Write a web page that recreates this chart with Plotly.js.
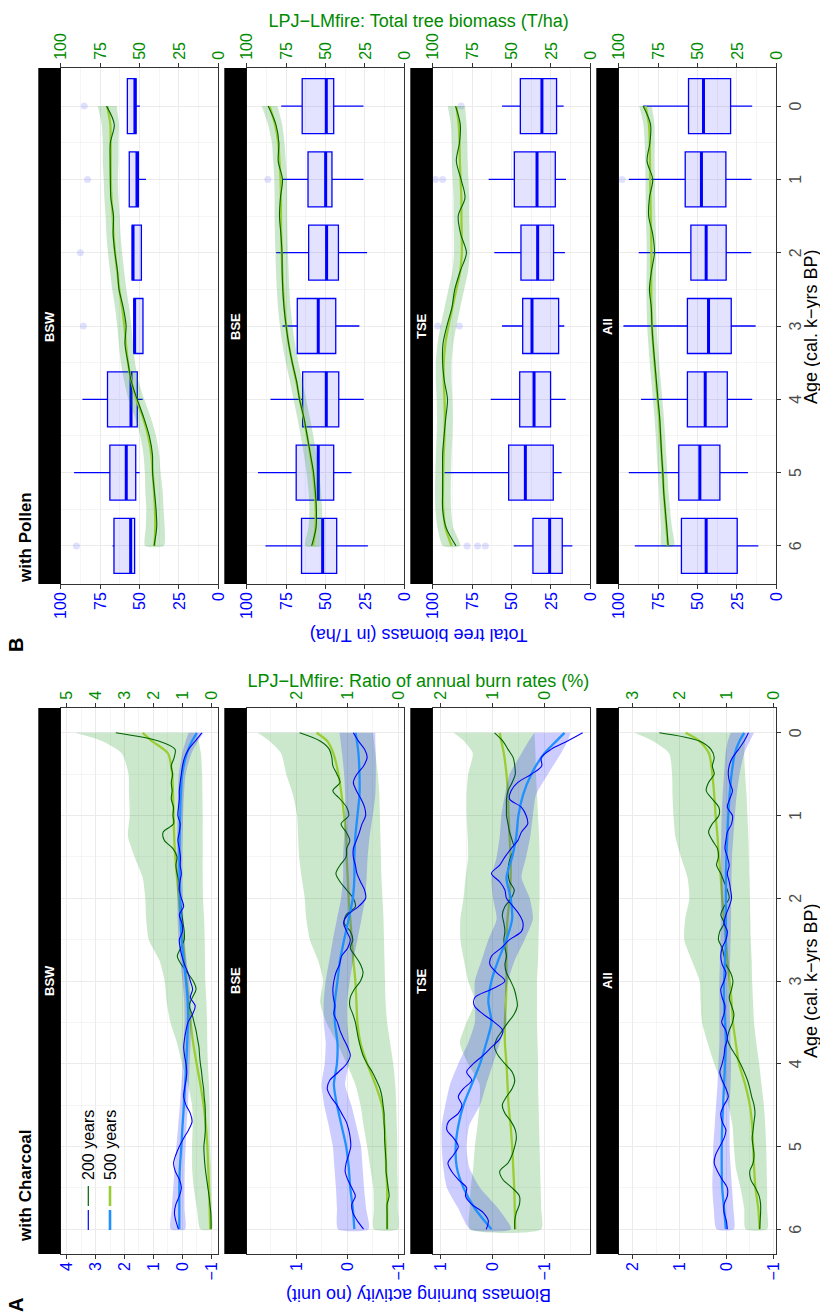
<!DOCTYPE html>
<html><head><meta charset="utf-8">
<script src="https://cdn.plot.ly/plotly-3.0.1.min.js"></script>
<style>
html,body{margin:0;padding:0;width:820px;height:1316px;overflow:hidden;background:#fff;}
#chart{position:absolute;left:0;top:0;width:1316px;height:820px;transform-origin:0 0;transform:translate(0px,1316px) rotate(-90deg);}
</style></head><body>
<div id="chart"></div>
<script>
// ---------------- DATA ----------------
const ageFine = [0,0.1,0.2,0.3,0.4,0.5,0.6,0.7,0.8,0.9,1,1.1,1.2,1.3,1.4,1.5,1.6,1.7,1.8,1.9,2,2.1,2.2,2.3,2.4,2.5,2.6,2.7,2.8,2.9,3,3.1,3.2,3.3,3.4,3.5,3.6,3.7,3.8,3.9,4,4.1,4.2,4.3,4.4,4.5,4.6,4.7,4.8,4.9,5,5.1,5.2,5.3,5.4,5.5,5.6,5.7,5.8,5.9,6];
const ageCoarse = [0,0.1,0.25,0.5,0.75,1,1.25,1.5,1.75,2,2.25,2.5,2.75,3,3.25,3.5,3.75,4,4.25,4.5,4.75,5,5.25,5.5,5.75,6];
const agePollen = [0,0.25,0.5,0.75,1,1.25,1.5,1.75,2,2.25,2.5,2.75,3,3.25,3.5,3.75,4,4.25,4.5,4.75,5,5.25,5.5,5.75,6];
const boxAges = [0,1,2,3,4,5,6];
const ageTicks = [0,1,2,3,4,5,6];
const facetLabels = ['BSW','BSE','TSE','All'];

// Charcoal: BSW
const bswBlue200 = [-0.68,-0.45,-0.22,-0.08,-0.01,0.03,0.07,0.10,0.10,0.13, 0.15,0.07,0.10,0.15,0.10,0.06,0.07,0.03,0.08,0.10, 0.03,-0.05,0.10,0.01,-0.01,0.10,0.07,0.01,-0.08,-0.20, -0.28,-0.36,-0.28,-0.45,-0.36,-0.20,-0.13,-0.08,-0.05,-0.08, -0.13,-0.16,-0.13,-0.08,-0.05,-0.13,-0.28,-0.34,-0.22,-0.05, 0.10,0.22,0.30,0.24,0.10,0.03,0.10,0.22,0.27,0.22,0.13];
const bswBlue500 = [-0.51,-0.34,-0.16,0.0,0.05,0.07,0.09,0.10,0.09,0.07,0.06,0.02,-0.05,-0.13,-0.19,-0.20,-0.17,-0.14,-0.10,-0.06,-0.01,0.03,0.08,0.10,0.10,0.10];
const bswBlueHi = [-0.22,-0.12,0.0,0.12,0.15,0.16,0.18,0.19,0.19,0.17,0.16,0.13,0.07,-0.01,-0.07,-0.08,-0.05,-0.02,0.03,0.08,0.14,0.20,0.26,0.31,0.36,0.40];
const bswBlueLo = [-0.74,-0.55,-0.32,-0.12,-0.06,-0.03,-0.01,0.0,0.0,-0.02,-0.04,-0.08,-0.15,-0.24,-0.30,-0.32,-0.29,-0.26,-0.23,-0.20,-0.15,-0.12,-0.09,-0.08,-0.08,-0.10];
const bswGreen200 = [3.30,1.82,1.25,1.28,1.38,1.33,1.38,1.35,1.38,1.30, 1.32,1.30,1.66,1.62,1.32,1.18,1.22,1.18,1.11,1.10, 1.07,1.04,1.01,0.97,0.93,0.93,1.05,1.17,1.03,0.82, 0.62,0.52,0.65,0.76,0.66,0.59,0.52,0.47,0.42,0.40, 0.37,0.33,0.30,0.26,0.24,0.21,0.20,0.20,0.20,0.22, 0.25,0.24,0.22,0.19,0.15,0.11,0.07,0.04,0.01,0.0,0.0];
const bswGreen500 = [2.37,2.05,1.49,1.35,1.32,1.30,1.28,1.24,1.18,1.12,1.06,0.98,0.92,0.85,0.78,0.71,0.62,0.50,0.37,0.26,0.18,0.13,0.10,0.07,0.05,0.03];
const bswGreenHi = [4.71,3.78,3.09,2.86,2.84,2.82,2.88,2.65,2.37,2.28,2.25,2.16,1.79,1.61,1.54,1.41,1.18,1.01,0.80,0.66,0.64,0.66,0.66,0.60,0.49,0.37];
const bswGreenLo = [0.49,0.43,0.35,0.31,0.30,0.29,0.29,0.29,0.29,0.28,0.24,0.22,0.21,0.20,0.16,0.14,0.13,0.11,0.07,0.05,0.04,0.03,0.0,-0.01,-0.02,-0.03];

// Charcoal: BSE
const bseBlue200 = [-0.12,-0.22,-0.34,-0.39,-0.32,-0.19,-0.12,-0.18,-0.27,-0.34, -0.36,-0.29,-0.24,-0.18,-0.12,-0.12,-0.16,-0.19,-0.26,-0.34, -0.36,-0.22,-0.01,0.07,0.01,-0.06,-0.01,0.11,0.15,0.22, 0.26,0.28,0.27,0.24,0.26,0.19,0.14,0.07,-0.01,-0.06, 0.01,0.17,0.34,0.39,0.32,0.20,0.11,0.02,-0.03,-0.06, -0.07,-0.03,0.02,0.04,-0.01,-0.09,-0.16,-0.09,-0.11,-0.20,-0.32];
const bseBlue500 = [-0.16,-0.19,-0.22,-0.24,-0.24,-0.20,-0.16,-0.14,-0.14,-0.11,-0.03,0.06,0.14,0.19,0.24,0.24,0.19,0.20,0.26,0.20,0.11,0.02,-0.03,-0.06,-0.11,-0.14];
const bseBlueHi = [0.15,0.13,0.10,0.06,0.04,0.04,0.06,0.08,0.08,0.12,0.20,0.28,0.35,0.42,0.46,0.46,0.42,0.44,0.50,0.45,0.36,0.28,0.25,0.22,0.20,0.18];
const bseBlueLo = [-0.55,-0.55,-0.56,-0.56,-0.55,-0.50,-0.44,-0.40,-0.38,-0.35,-0.28,-0.20,-0.12,-0.05,0.0,0.0,-0.04,-0.03,0.04,-0.08,-0.18,-0.27,-0.30,-0.33,-0.37,-0.42];
const bseGreen200 = [1.93,1.53,1.35,1.30,1.28,1.20,1.14,1.28,1.14,1.01, 0.97,1.12,1.02,0.95,1.01,1.02,1.14,1.22,1.14,1.01, 0.88,0.84,1.02,1.06,0.94,0.89,0.94,0.84,0.74,0.69, 0.74,0.86,0.94,0.95,0.89,0.84,0.81,0.78,0.74,0.69, 0.61,0.51,0.43,0.36,0.32,0.30,0.28,0.28,0.27,0.27, 0.26,0.25,0.24,0.24,0.22,0.20,0.18,0.22,0.22,0.22,0.22];
const bseGreen500 = [1.60,1.39,1.27,1.17,1.11,1.06,1.02,1.01,0.99,0.97,0.94,0.91,0.88,0.84,0.82,0.80,0.74,0.61,0.45,0.32,0.27,0.25,0.24,0.22,0.22,0.22];
const bseGreenHi = [2.75,2.52,2.29,2.19,2.06,1.98,1.96,1.94,1.89,1.83,1.80,1.73,1.57,1.47,1.53,1.41,1.20,1.01,0.84,0.74,0.68,0.61,0.55,0.49,0.48,0.48];
const bseGreenLo = [0.50,0.48,0.45,0.40,0.37,0.36,0.35,0.34,0.33,0.31,0.29,0.28,0.27,0.26,0.25,0.22,0.16,0.10,0.06,0.04,0.03,0.02,0.02,0.01,0.01,0.01];

// Charcoal: TSE
const tseBlue200 = [-1.74,-1.45,-1.13,-0.94,-0.95,-0.75,-0.49,-0.36,-0.33,-0.56, -0.65,-0.68,-0.56,-0.49,-0.36,-0.24,-0.14,0.02,-0.14,-0.24, -0.27,-0.40,-0.52,-0.59,-0.56,-0.33,-0.17,0.02,0.05,-0.08, -0.24,0.02,0.34,0.35,0.18,-0.04,-0.20,-0.14,0.02,0.18, 0.37,0.50,0.40,0.56,0.66,0.59,0.66,0.85,0.88,0.75, 0.66,0.75,0.86,0.79,0.66,0.50,0.52,0.40,0.18,0.08,0.12];
const tseBlue500 = [-1.39,-1.23,-1.00,-0.75,-0.59,-0.50,-0.46,-0.38,-0.27,-0.35,-0.38,-0.27,-0.11,0.02,0.08,0.02,0.12,0.24,0.40,0.56,0.66,0.71,0.69,0.56,0.34,0.02];
const tseBlueHi = [-0.81,-0.70,-0.56,-0.33,-0.24,-0.17,-0.14,-0.08,0.02,-0.01,-0.08,0.08,0.21,0.34,0.34,0.34,0.47,0.66,0.82,0.91,0.98,0.98,0.95,0.88,0.66,0.43];
const tseBlueLo = [-1.51,-1.45,-1.32,-1.07,-0.84,-0.78,-0.73,-0.65,-0.56,-0.72,-0.78,-0.62,-0.43,-0.30,-0.24,-0.27,-0.14,-0.01,0.12,0.24,0.45,0.50,0.45,0.24,-0.11,-0.36];
const tseGreen200 = [0.96,0.80,0.70,0.60,0.57,0.56,0.62,0.70,0.73,0.73, 0.73,0.70,0.67,0.62,0.58,0.65,0.69,0.70,0.67,0.58, 0.64,0.76,0.81,0.78,0.76,0.78,0.76,0.73,0.76,0.73, 0.65,0.58,0.54,0.52,0.58,0.70,0.81,0.92,0.96,0.89, 0.76,0.62,0.57,0.62,0.73,0.81,0.76,0.64,0.56,0.54, 0.57,0.62,0.70,0.86,0.80,0.62,0.48,0.48,0.54,0.57,0.57];
const tseGreen500 = [0.86,0.83,0.78,0.73,0.70,0.69,0.67,0.65,0.65,0.67,0.71,0.73,0.73,0.73,0.74,0.76,0.76,0.73,0.71,0.69,0.65,0.62,0.60,0.58,0.57,0.56];
const tseGreenHi = [1.75,1.55,1.38,1.47,1.50,1.50,1.48,1.47,1.52,1.56,1.62,1.62,1.55,1.47,1.34,1.50,1.63,1.47,1.25,1.25,1.29,1.34,1.37,1.42,1.44,1.44];
const tseGreenLo = [0.19,0.18,0.17,0.16,0.14,0.12,0.10,0.09,0.09,0.09,0.10,0.11,0.12,0.14,0.14,0.14,0.13,0.12,0.12,0.11,0.10,0.09,0.08,0.07,0.06,0.06];

// Charcoal: All
const allBlue200 = [-0.47,-0.38,-0.26,-0.13,-0.06,-0.04,-0.07,-0.13,-0.07,-0.02, -0.13,-0.11,-0.02,0.01,0.03,-0.02,-0.06,-0.02,-0.06,-0.09, -0.11,-0.06,0.01,0.05,-0.02,0.01,0.09,0.12,0.09,0.01, 0.05,0.12,0.09,0.03,0.05,0.10,0.01,-0.02,0.03,0.05, 0.09,0.14,0.09,0.01,-0.04,0.05,0.12,0.09,0.01,0.05, 0.14,0.23,0.26,0.19,0.09,-0.02,-0.02,0.05,0.05,0.0,-0.02];
const allBlue500 = [-0.38,-0.28,-0.18,-0.11,-0.07,-0.04,-0.02,0.0,0.01,0.01,0.01,0.01,0.03,0.05,0.05,0.03,0.01,0.03,0.05,0.07,0.09,0.10,0.10,0.09,0.05,0.01];
const allBlueHi = [-0.09,-0.03,0.02,0.05,0.08,0.10,0.11,0.12,0.12,0.12,0.12,0.13,0.14,0.15,0.15,0.15,0.15,0.17,0.19,0.22,0.25,0.28,0.29,0.30,0.27,0.21];
const allBlueLo = [-0.59,-0.50,-0.38,-0.28,-0.22,-0.18,-0.15,-0.12,-0.11,-0.10,-0.10,-0.09,-0.08,-0.06,-0.07,-0.08,-0.09,-0.10,-0.09,-0.07,-0.07,-0.07,-0.09,-0.12,-0.15,-0.16];
const allGreen200 = [2.43,1.58,1.33,1.26,1.30,1.26,1.38,1.43,1.30,1.16, 1.16,1.30,1.38,1.30,1.19,1.17,1.21,1.12,1.05,0.98, 0.94,1.05,1.12,1.05,1.14,1.17,1.09,1.05,1.01,0.91, 0.86,0.89,0.94,0.89,0.84,0.87,0.94,0.98,0.91,0.80, 0.70,0.62,0.55,0.50,0.46,0.41,0.39,0.41,0.43,0.45, 0.43,0.41,0.43,0.50,0.48,0.38,0.30,0.27,0.27,0.28,0.29];
const allGreen500 = [1.87,1.57,1.37,1.30,1.26,1.23,1.19,1.16,1.12,1.09,1.05,1.01,0.98,0.93,0.89,0.86,0.80,0.73,0.60,0.50,0.45,0.43,0.41,0.38,0.32,0.29];
const allGreenHi = [2.96,2.57,2.22,2.16,2.15,2.13,2.09,1.97,1.83,1.79,1.88,1.90,1.74,1.57,1.55,1.52,1.40,1.26,1.09,0.96,0.87,0.84,0.80,0.70,0.62,0.59];
const allGreenLo = [0.59,0.60,0.62,0.60,0.57,0.55,0.53,0.52,0.51,0.50,0.49,0.48,0.46,0.45,0.43,0.41,0.36,0.30,0.25,0.20,0.17,0.15,0.14,0.13,0.13,0.13];

// Charcoal axis ticks (blue = activity, green = ratio %)
const bswBlueTicks = [-1,0,1,2,3,4], bswGreenTicks = [0,1,2,3,4,5];
const bseBlueTicks = [-1,0,1], bseGreenTicks = [0,1,2];
const tseBlueTicks = [-1,0,1], tseGreenTicks = [0,1,2];
const allBlueTicks = [-1,0,1,2], allGreenTicks = [0,1,2,3];
const pollenTicks = [0,25,50,75,100];

// Pollen boxplots (tree biomass, T/ha)
const pBswQ1 = [52.2,50.7,48.8,47.8,51.4,52.4,53.1];
const pBswMed = [52.9,51.6,54.1,53.1,55.4,58.4,55.6];
const pBswQ3 = [57.7,56.5,54.6,53.5,70.3,68.8,66.2];
const pBswLow = [49.7,45.9,48.8,47.8,48.0,49.9,53.1];
const pBswHigh = [57.7,56.5,54.6,53.5,86.2,91.5,67.1];
const pBswOutAge = [0,1,2,3,6];
const pBswOutVal = [85.1,83.0,87.5,85.6,90.0];

const pBseQ1 = [44.8,45.9,41.8,43.5,41.6,44.8,42.9];
const pBseMed = [49.5,49.9,49.3,54.6,49.5,54.6,51.8];
const pBseQ3 = [64.8,61.1,60.7,67.9,64.5,68.6,65.2];
const pBseLow = [25.9,25.9,23.6,28.5,25.7,33.5,23.1];
const pBseHigh = [78.1,77.5,81.3,77.3,84.9,92.8,88.1];
const pBseOutAge = [1];
const pBseOutVal = [86.6];

const pTseQ1 = [21.4,22.2,23.3,20.1,25.2,23.5,17.8];
const pTseMed = [30.7,33.8,33.4,37.0,35.7,41.2,25.8];
const pTseQ3 = [44.4,48.2,44.0,42.9,44.8,51.8,36.4];
const pTseLow = [16.9,15.4,16.1,16.5,15.6,18.2,11.4];
const pTseHigh = [56.0,64.5,60.9,56.0,63.2,92.6,48.6];
const pTseOutAge = [0,1,1,3,3,6,6,6];
const pTseOutVal = [82.0,98.3,93.7,96.8,83.1,78.2,71.5,66.6];

const pAllQ1 = [29.0,32.0,31.8,28.6,31.1,35.8,24.8];
const pAllMed = [46.2,47.5,44.5,43.0,45.1,48.5,44.5];
const pAllQ3 = [55.7,57.8,54.2,56.4,56.4,61.9,60.2];
const pAllLow = [15.3,15.7,15.9,13.1,15.3,18.0,11.4];
const pAllHigh = [84.5,93.6,87.3,97.0,85.8,93.6,89.8];
const pAllOutAge = [1];
const pAllOutVal = [97.9];

// Pollen: LPJ-LMfire tree biomass lines
const pBswDark = [70.9,66.0,68.5,68.6,68.5,68.2,66.5,66.7,65.6,64.0,63.0,60.3,58.5,59.2,57.3,55.3,51.5,47.3,43.8,41.8,41.7,40.6,39.5,39.1,40.8];
const pBswLight = [70.5,68.5,68.3,68.3,68.2,67.8,67.0,66.5,65.5,64.2,62.8,61.0,59.6,58.6,57.3,55.2,52.0,47.8,44.5,42.5,41.6,40.8,40.2,40.0,40.5];
const pBswRibHi = [76.5,74.0,73.3,73.3,72.7,72.3,71.5,71.0,70.0,68.7,67.3,65.5,64.1,63.1,61.8,59.7,57.0,52.8,49.5,47.5,46.6,46.3,45.7,46.0,46.5];
const pBswRibLo = [64.5,63.0,63.3,63.3,63.7,63.3,62.5,62.0,61.0,59.7,58.3,56.5,55.1,54.1,52.8,50.7,47.0,42.8,39.5,37.5,36.6,35.3,34.7,34.0,34.5];

const pBseDark = [86.4,81.5,79.6,80.0,77.3,78.6,79.2,78.3,77.6,77.5,77.1,76.3,75.0,73.3,71.1,68.4,66.5,63.7,61.6,59.6,57.6,56.5,55.8,56.0,58.8];
const pBseLight = [85.5,82.0,80.0,79.2,78.5,78.3,78.3,78.1,77.8,77.4,76.9,76.1,74.9,73.3,71.1,68.6,66.3,63.9,61.7,59.7,58.0,56.8,56.2,56.4,57.8];
const pBseRibHi = [90.5,86.5,84.0,83.2,82.5,82.3,82.3,82.1,81.8,81.4,80.9,80.1,78.9,77.3,75.1,72.6,70.3,67.9,65.7,63.7,62.0,60.8,60.2,60.9,62.8];
const pBseRibLo = [80.5,77.5,76.0,75.2,74.5,74.3,74.3,74.1,73.8,73.4,72.9,72.1,70.9,69.3,67.1,64.6,62.3,59.9,57.7,55.7,54.0,52.8,52.2,51.9,52.8];

const pTseDark = [85.5,82.5,83.0,85.0,82.0,79.5,83.8,82.2,78.6,82.5,86.0,87.8,91.0,93.5,93.7,92.6,90.6,91.7,92.8,93.7,93.7,93.7,93.7,91.5,85.2];
const pTseLight = [85.0,83.5,83.0,82.8,82.3,81.8,81.8,81.6,81.5,82.5,85.0,87.5,90.0,92.0,93.0,93.0,92.5,92.3,92.5,93.0,93.3,93.5,93.3,92.0,88.0];
const pTseRibHi = [90.5,88.5,88.0,87.8,87.3,86.8,86.8,86.6,86.5,87.5,90.0,92.5,95.0,97.0,98.0,98.0,97.5,97.3,97.5,98.0,98.3,98.5,98.3,97.0,93.5];
const pTseRibLo = [79.5,78.5,78.0,77.8,77.3,76.8,76.8,76.6,76.5,77.5,80.0,82.5,85.0,87.0,88.0,88.0,87.5,87.3,87.5,88.0,88.3,88.5,88.3,87.0,82.5];

const pAllDark = [84.5,79.8,80.2,82.0,78.4,80.5,81.0,78.4,77.3,79.2,80.5,79.3,78.9,78.1,77.1,76.1,75.1,74.0,73.4,72.8,72.0,71.5,70.5,69.5,68.6];
const pAllLight = [83.0,80.8,80.3,80.2,80.0,79.9,79.7,79.4,79.2,79.3,79.4,79.3,78.9,78.2,77.3,76.3,75.3,74.3,73.5,72.8,72.1,71.4,70.6,69.7,68.8];
const pAllRibHi = [87.0,84.3,83.5,83.2,83.0,82.9,82.7,82.4,82.2,82.3,82.4,82.3,81.9,81.2,80.3,79.3,78.3,77.3,76.5,75.8,75.1,74.4,73.8,73.2,72.8];
const pAllRibLo = [79.0,77.3,77.1,77.2,77.0,76.9,76.7,76.4,76.2,76.3,76.4,76.3,75.9,75.2,74.3,73.3,72.3,71.3,70.5,69.8,69.1,68.4,67.4,66.2,64.8];

// ---------------- BUILD ----------------
const FONT = '"Liberation Sans", Arial, Helvetica, sans-serif';
const W = 1316, H = 820;
const fx = v => v / W, fy = v => 1 - v / H;
const C = {blue:'#0000FF', dodger:'#1E90FF', dkgreen:'#006400', ygreen:'#9ACD32', gtext:'#008B00',
  grib:'rgba(0,139,0,0.2)', brib:'rgba(0,0,255,0.2)', boxfill:'rgba(0,0,255,0.11)', outlier:'rgba(0,0,255,0.12)',
  grid:'#EBEBEB', frame:'#333333', tick:'#4D4D4D'};

const charcoal = [
  {b200:bswBlue200,b500:bswBlue500,bLo:bswBlueLo,bHi:bswBlueHi,g200:bswGreen200,g500:bswGreen500,gLo:bswGreenLo,gHi:bswGreenHi,range:[-1.25,4.21],bt:bswBlueTicks,gt:bswGreenTicks},
  {b200:bseBlue200,b500:bseBlue500,bLo:bseBlueLo,bHi:bseBlueHi,g200:bseGreen200,g500:bseGreen500,gLo:bseGreenLo,gHi:bseGreenHi,range:[-1.116,1.964],bt:bseBlueTicks,gt:bseGreenTicks},
  {b200:tseBlue200,b500:tseBlue500,bLo:tseBlueLo,bHi:tseBlueHi,g200:tseGreen200,g500:tseGreen500,gLo:tseGreenLo,gHi:tseGreenHi,range:[-1.888,1.154],bt:tseBlueTicks,gt:tseGreenTicks},
  {b200:allBlue200,b500:allBlue500,bLo:allBlueLo,bHi:allBlueHi,g200:allGreen200,g500:allGreen500,gLo:allGreenLo,gHi:allGreenHi,range:[-1.065,2.298],bt:allBlueTicks,gt:allGreenTicks}
];
const pollen = [
  {q1:pBswQ1,med:pBswMed,q3:pBswQ3,lo:pBswLow,hi:pBswHigh,oa:pBswOutAge,ov:pBswOutVal,dark:pBswDark,light:pBswLight,rHi:pBswRibHi,rLo:pBswRibLo},
  {q1:pBseQ1,med:pBseMed,q3:pBseQ3,lo:pBseLow,hi:pBseHigh,oa:pBseOutAge,ov:pBseOutVal,dark:pBseDark,light:pBseLight,rHi:pBseRibHi,rLo:pBseRibLo},
  {q1:pTseQ1,med:pTseMed,q3:pTseQ3,lo:pTseLow,hi:pTseHigh,oa:pTseOutAge,ov:pTseOutVal,dark:pTseDark,light:pTseLight,rHi:pTseRibHi,rLo:pTseRibLo},
  {q1:pAllQ1,med:pAllMed,q3:pAllQ3,lo:pAllLow,hi:pAllHigh,oa:pAllOutAge,ov:pAllOutVal,dark:pAllDark,light:pAllLight,rHi:pAllRibHi,rLo:pAllRibLo}
];

const data = [], shapes = [], annotations = [];
const layout = {width:W, height:H, margin:{l:0,r:0,t:0,b:0}, paper_bgcolor:'#ffffff', plot_bgcolor:'rgba(0,0,0,0)',
  showlegend:false, font:{family:FONT, size:16, color:'#000'}, shapes, annotations};

const key = (p, n) => n === 1 ? p + 'axis' : p + 'axis' + n;
const ref = (p, n) => n === 1 ? p : p + n;
const halves = (t) => t.slice(0, -1).map(v => v + (t[1] - t[0]) / 2);

function ribbon(xs, lo, hi, color, xa, ya) {
  return {type:'scatter', mode:'lines', x: xs.concat(xs.slice().reverse()), y: hi.concat(lo.slice().reverse()),
    fill:'toself', fillcolor:color, line:{width:0, shape:'spline', smoothing:0.6}, xaxis:xa, yaxis:ya, hoverinfo:'skip'};
}
function line(xs, ys, color, width, xa, ya, sm) {
  return {type:'scatter', mode:'lines', x:xs, y:ys, line:{color, width, shape:'spline', smoothing: sm || 0.9}, xaxis:xa, yaxis:ya, hoverinfo:'skip'};
}
function yAxisCommon(range, ticks, color, side) {
  return {range, tickmode:'array', tickvals:ticks, ticks:'outside', ticklen:4, tickwidth:1, tickcolor:C.frame,
    tickfont:{size:16, color, family:FONT}, side, zeroline:false, fixedrange:true};
}

for (let f = 0; f < 8; f++) {
  const isA = f < 4, row = f % 4;
  const xn = f + 1, yb = 2 * f + 1, yo = 2 * f + 2;
  const xr = ref('x', xn), ybr = ref('y', yb), yor = ref('y', yo);
  const left = isA ? 62 : 732, right = isA ? 608 : 1248;
  const top = 60.7 + 186 * row, bot = 218.3 + 186 * row;
  const xDom = [fx(left), fx(right)], yDom = [fy(bot), fy(top)];

  layout[key('x', xn)] = {domain:xDom, anchor:ybr, range: isA ? [6.3, -0.3] : [6.52, -0.52],
    tickmode:'array', tickvals:ageTicks, showticklabels: row === 3, ticks: row === 3 ? 'outside' : '', ticklen:4, tickcolor:C.frame,
    tickfont:{size:16, color:C.tick, family:FONT}, showline:true, mirror:true, linecolor:C.frame, linewidth:1,
    showgrid:true, gridcolor:C.grid, gridwidth:1, zeroline:false, fixedrange:true,
    minor:{tickvals:halves(ageTicks), showgrid:true, gridcolor:C.grid, gridwidth:0.5, ticks:''}};

  if (isA) {
    const c = charcoal[f];
    const gRange = [c.range[0] + 1, c.range[1] + 1];
    const gMinor = c.gt.map(v => v - 0.5).filter(v => v > gRange[0]).concat([c.gt[c.gt.length - 1] + 0.5]).filter(v => v < gRange[1]);
    layout[key('y', yb)] = Object.assign(yAxisCommon(gRange, c.gt, C.gtext, 'right'),
      {domain:yDom, anchor:xr, showline:true, mirror:true, linecolor:C.frame, linewidth:1, showgrid:true, gridcolor:C.grid, gridwidth:1,
       minor:{tickvals:gMinor, showgrid:true, gridcolor:C.grid, gridwidth:0.5, ticks:''}});
    layout[key('y', yo)] = Object.assign(yAxisCommon(c.range, c.bt, C.blue, 'left'),
      {overlaying:ybr, anchor:xr, showline:false, showgrid:false});
    data.push(ribbon(ageCoarse, c.gLo, c.gHi, C.grib, xr, ybr));
    data.push(line(ageCoarse, c.g500, C.ygreen, 2.3, xr, ybr, 0.7));
    data.push(line(ageFine, c.g200, C.dkgreen, 1.1, xr, ybr));
    data.push(ribbon(ageCoarse, c.bLo, c.bHi, C.brib, xr, yor));
    data.push(line(ageCoarse, c.b500, C.dodger, 2.3, xr, yor, 0.7));
    data.push(line(ageFine, c.b200, C.blue, 1.1, xr, yor));
  } else {
    const p = pollen[f - 4];
    layout[key('y', yb)] = Object.assign(yAxisCommon([0, 100], pollenTicks, C.blue, 'left'),
      {domain:yDom, anchor:xr, showline:true, mirror:true, linecolor:C.frame, linewidth:1, showgrid:true, gridcolor:C.grid, gridwidth:1,
       minor:{tickvals:halves(pollenTicks), showgrid:true, gridcolor:C.grid, gridwidth:0.5, ticks:''}});
    layout[key('y', yo)] = Object.assign(yAxisCommon([0, 100], pollenTicks, C.gtext, 'right'),
      {overlaying:ybr, anchor:xr, showline:false, showgrid:false});
    data.push({type:'box', x:boxAges, q1:p.q1, median:p.med, q3:p.q3, lowerfence:p.lo, upperfence:p.hi,
      width:0.75, whiskerwidth:0, boxpoints:false, fillcolor:C.boxfill, line:{color:C.blue, width:1.3},
      xaxis:xr, yaxis:ybr, hoverinfo:'skip'});
    const mx = [], my = [];
    boxAges.forEach((a, i) => { mx.push(a - 0.375, a + 0.375, null); my.push(p.med[i], p.med[i], null); });
    data.push({type:'scatter', mode:'lines', x:mx, y:my, line:{color:C.blue, width:3}, xaxis:xr, yaxis:ybr, hoverinfo:'skip'});
    data.push({type:'scatter', mode:'markers', x:p.oa, y:p.ov, marker:{color:C.outlier, size:7}, xaxis:xr, yaxis:ybr, hoverinfo:'skip'});
    data.push(ribbon(agePollen, p.rLo, p.rHi, C.grib, xr, yor));
    data.push(line(agePollen, p.light, C.ygreen, 2.3, xr, yor, 0.7));
    data.push(line(agePollen, p.dark, C.dkgreen, 1.1, xr, yor));
  }

  // strip
  const sTop = 38.3 + 186 * row;
  shapes.push({type:'rect', xref:'paper', yref:'paper', x0:fx(left), x1:fx(right), y0:fy(top), y1:fy(sTop),
    fillcolor:'#000000', line:{width:0}, layer:'above'});
  annotations.push({xref:'paper', yref:'paper', x:fx((left + right) / 2), y:fy((sTop + top) / 2), xanchor:'center', yanchor:'middle',
    text:'<b>' + facetLabels[row] + '</b>', showarrow:false, font:{size:13, color:'#ffffff', family:FONT}});
}

// titles & axis titles
const midY = fy(418.5);
function ann(x, y, text, opts) {
  annotations.push(Object.assign({xref:'paper', yref:'paper', x, y, text, showarrow:false, xanchor:'center', yanchor:'middle',
    font:{size:18, color:'#000', family:FONT}}, opts || {}));
}
ann(fx(20.5), midY, 'Biomass burning activity (no unit)', {textangle:-90, font:{size:18, color:C.blue, family:FONT}});
ann(fx(636), midY, 'LPJ\u2212LMfire: Ratio of annual burn rates (%)', {textangle:90, font:{size:18, color:C.gtext, family:FONT}});
ann(fx(681), midY, 'Total tree biomass (in T/ha)', {textangle:-90, font:{size:18, color:C.blue, family:FONT}});
ann(fx(1296), midY, 'LPJ\u2212LMfire: Total tree biomass (T/ha)', {textangle:90, font:{size:18, color:C.gtext, family:FONT}});
ann(fx(335), fy(811), 'Age (cal. k\u2212yrs BP)');
ann(fx(990), fy(811), 'Age (cal. k\u2212yrs BP)');
ann(fx(10.5), fy(15.5), '<b>A</b>', {font:{size:20, color:'#000', family:FONT}});
ann(fx(671), fy(15.5), '<b>B</b>', {font:{size:20, color:'#000', family:FONT}});
ann(fx(72), fy(25), '<b>with Charcoal</b>', {xanchor:'left', font:{size:17, color:'#000', family:FONT}});
ann(fx(731), fy(25), '<b>with Pollen</b>', {xanchor:'left', font:{size:17, color:'#000', family:FONT}});

// legend (inside charcoal BSW panel)
const legendRows = [
  {y:88.3, c1:C.blue, c2:C.dkgreen, w:1.2, label:'200 years'},
  {y:110, c1:C.dodger, c2:C.ygreen, w:2.6, label:'500 years'}
];
legendRows.forEach(r => {
  shapes.push({type:'line', xref:'paper', yref:'paper', x0:fx(86), x1:fx(106), y0:fy(r.y), y1:fy(r.y), line:{color:r.c1, width:r.w}});
  shapes.push({type:'line', xref:'paper', yref:'paper', x0:fx(110), x1:fx(130), y0:fy(r.y), y1:fy(r.y), line:{color:r.c2, width:r.w}});
  ann(fx(134), fy(r.y), r.label, {xanchor:'left', font:{size:16, color:'#000', family:FONT}});
});

Plotly.newPlot('chart', data, layout, {staticPlot:true, displayModeBar:false});
</script></body></html>
